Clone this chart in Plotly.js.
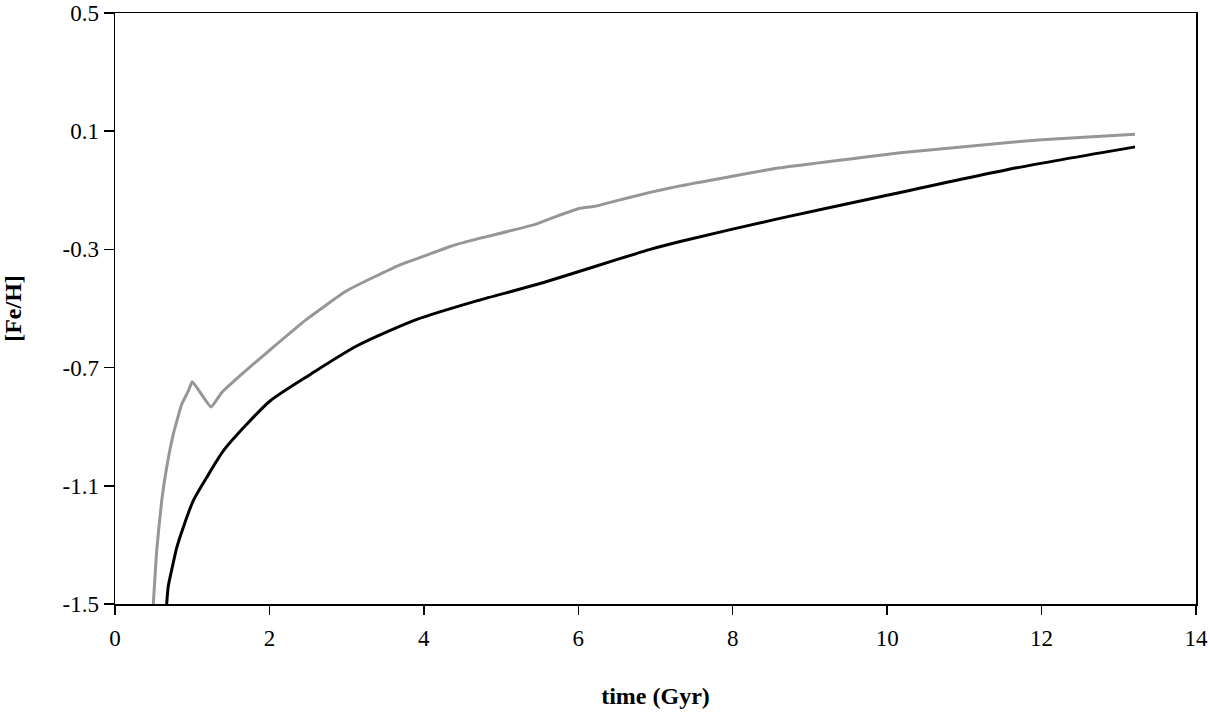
<!DOCTYPE html>
<html>
<head>
<meta charset="utf-8">
<script src="https://cdn.plot.ly/plotly-3.0.1.min.js"></script>
<style>html,body{margin:0;padding:0;background:#fff;}#chart{width:1210px;height:713px;}</style>
</head>
<body>
<div id="chart"></div>
<script>
// Gray curve
const grayTime = [0.496, 0.54, 0.605, 0.669, 0.755, 0.864, 0.95, 1.001, 1.243, 1.38, 1.66, 1.99, 2.48, 3.0, 3.69, 4.0, 4.34, 4.73, 5.42, 5.7, 6.02, 6.2, 6.5, 6.93, 7.32, 8.61, 9.91, 10.17, 11.68, 12.0, 13.21];
const grayFeH  = [-1.5, -1.319, -1.15, -1.038, -0.925, -0.824, -0.779, -0.748, -0.833, -0.785, -0.718, -0.644, -0.537, -0.44, -0.352, -0.323, -0.29, -0.262, -0.217, -0.19, -0.161, -0.155, -0.135, -0.107, -0.085, -0.024, 0.019, 0.027, 0.064, 0.071, 0.09];
// Black curve
const blackTime = [0.669, 0.69, 0.734, 0.799, 0.885, 1.014, 1.187, 1.403, 1.705, 2.008, 2.53, 3.13, 3.91, 4.7, 5.46, 6.93, 7.32, 8.61, 9.91, 11.68, 13.21];
const blackFeH  = [-1.5, -1.44, -1.385, -1.31, -1.24, -1.15, -1.072, -0.982, -0.892, -0.813, -0.723, -0.627, -0.537, -0.473, -0.419, -0.3, -0.273, -0.195, -0.122, -0.024, 0.047];
const yTicks = [-1.5, -1.1, -0.7, -0.3, 0.1, 0.5];
const yTickText = ['-1.5', '-1.1', '-0.7', '-0.3', '0.1', '0.5'];
const xTicks = [0, 2, 4, 6, 8, 10, 12, 14];

const fontFam = '"Liberation Serif", "DejaVu Serif", serif';
const traces = [
  {x: grayTime, y: grayFeH, type: 'scatter', mode: 'lines', line: {color: '#969696', width: 3, shape: 'spline', smoothing: 0.4}, hoverinfo: 'skip'},
  {x: blackTime, y: blackFeH, type: 'scatter', mode: 'lines', line: {color: '#000000', width: 3, shape: 'spline', smoothing: 0.7}, hoverinfo: 'skip'}
];
const layout = {
  width: 1210, height: 713,
  margin: {l: 115, r: 14, t: 13, b: 109, pad: 0},
  paper_bgcolor: '#fff', plot_bgcolor: '#fff',
  showlegend: false,
  font: {family: fontFam, color: '#000', size: 23},
  xaxis: {
    range: [0, 14], tickvals: xTicks, ticktext: xTicks.map(String),
    showgrid: false, zeroline: false,
    showline: true, linecolor: '#000', linewidth: 1.5, mirror: true,
    ticks: 'outside', ticklen: 9, tickwidth: 1.5, tickcolor: '#000',
    ticklabelstandoff: 4, ticklabeloverflow: 'allow',
    tickfont: {family: fontFam, size: 23},
    title: {text: '<b>time (Gyr)</b>', font: {family: fontFam, size: 24}, standoff: 37}
  },
  yaxis: {
    range: [-1.5, 0.5], tickvals: yTicks, ticktext: yTickText,
    showgrid: false, zeroline: false,
    showline: true, linecolor: '#000', linewidth: 1.5, mirror: true,
    ticks: 'outside', ticklen: 10, tickwidth: 1.5, tickcolor: '#000',
    ticklabeloverflow: 'allow',
    tickfont: {family: fontFam, size: 23},
    title: {text: '<b>[Fe/H]</b>', font: {family: fontFam, size: 24}, standoff: 34}
  }
};
Plotly.newPlot('chart', traces, layout, {staticPlot: true, displayModeBar: false});
</script>
</body>
</html>
